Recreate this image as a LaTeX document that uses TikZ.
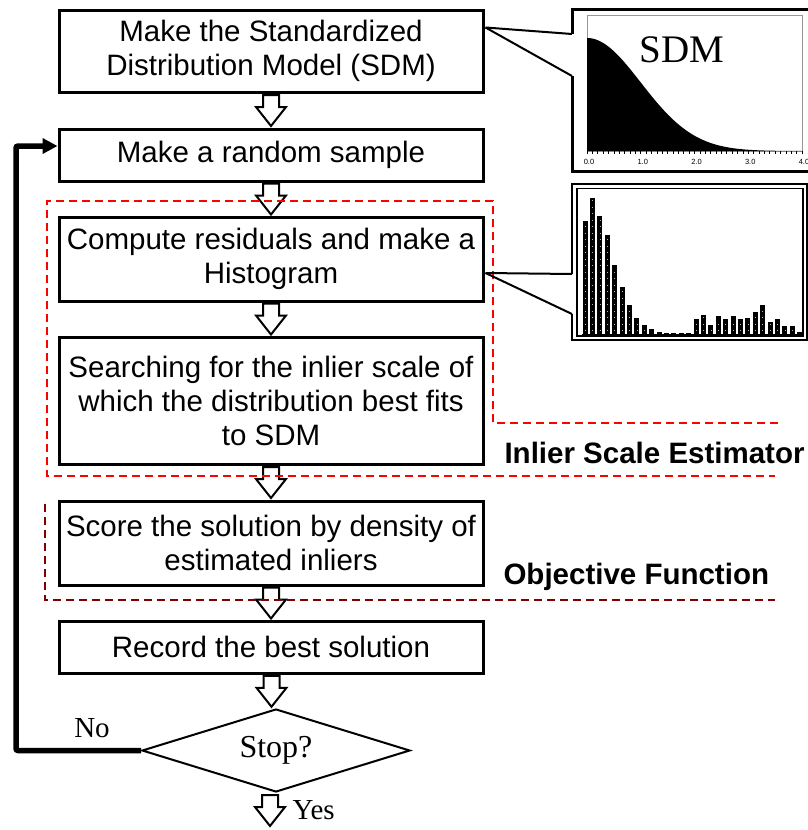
\documentclass[tikz,border=0pt]{standalone}
\usepackage{fontspec}
\setmainfont{Liberation Serif}
\setsansfont{Liberation Sans}
\usetikzlibrary{shapes.geometric,arrows.meta,calc}
\definecolor{dkred}{RGB}{128,0,0}
\definecolor{framegray}{RGB}{150,150,150}
\begin{document}
\begin{tikzpicture}[x=1pt,y=-1pt,
  procbox/.style={draw, line width=3pt, minimum width=424pt, align=center, inner sep=0pt,
    font=\sffamily\fontsize{29.5}{34}\selectfont},
  decision/.style={draw, diamond, line width=2pt, minimum width=268pt, minimum height=83pt,
    aspect=3.2, inner sep=0pt, font=\fontsize{32}{36}\selectfont},
  harrow/.pic={\draw[line width=2pt, fill=white, line join=miter]
     (-8,-15.5) -- (8,-15.5) -- (8,-3.5) -- (15,-3.5) -- (0,15.5) -- (-15,-3.5) -- (-8,-3.5) -- cycle;},
  callout/.style={line width=2pt},
  grouplabel/.style={anchor=base west, font=\sffamily\bfseries\fontsize{29.5}{34}\selectfont},
  serlabel/.style={font=\fontsize{29}{32}\selectfont},
  regionA/.style={red, line width=2.5pt, dash pattern=on 8pt off 5pt},
  regionB/.style={dkred, line width=2.5pt, dash pattern=on 8pt off 5pt},
  feedback/.style={line width=5.5pt, rounded corners=2pt, -{Triangle[length=15pt,width=15pt]}}
]
\useasboundingbox (0,0) rectangle (808,830);

% process boxes
\node[procbox, minimum height=82pt] (b1) at (271,51) {Make the Standardized\\Distribution Model (SDM)};
\node[procbox, minimum height=52pt] (b2) at (271,155) {Make a random sample};
\node[procbox, minimum height=84pt] (b3) at (271,259) {Compute residuals and make a\\Histogram};
\node[procbox, minimum height=127pt] (b4) at (271,400.5) {Searching for the inlier scale of\\which the distribution best fits\\to SDM};
\node[procbox, minimum height=84pt] (b5) at (271,543) {Score the solution by density of\\estimated inliers};
\node[procbox, minimum height=52pt] (b6) at (271,647) {Record the best solution};
\node[decision] (d) at (276,750.5) {Stop?};

% hollow arrows
\coordinate (m1) at ($(b1.south)!0.5!(b2.north)$);
\coordinate (m2) at ($(b2.south)!0.5!(b3.north)$);
\coordinate (m3) at ($(b3.south)!0.5!(b4.north)$);
\coordinate (m4) at ($(b4.south)!0.5!(b5.north)$);
\coordinate (m5) at ($(b5.south)!0.5!(b6.north)$);
\coordinate (m6) at ($(b6.south)!0.5!(d.north)+(-2,0)$);
\coordinate (m7) at ($(d.south)+(-6,17.5)$);
\foreach \m in {m1,m2,m3,m4,m5,m6,m7} \pic at (\m) {harrow};

% labels of decision
\node[serlabel] (no) at (92,728) {No};
\node[serlabel, anchor=west] (yes) at (289,810) {Yes};

% feedback loop
\coordinate (loopc) at (16,400);
\coordinate (b2in) at ($(b2.west)+(0,-9)$);
\draw[feedback] (d.west) -| (loopc) |- (b2in);

% dashed regions
\draw[regionA] (778,423) -- (493,423) -- (493,201) -- (47,201) -- (47,476) -- (775,476);
\draw[regionB] (45,504) -- (45,600) -- (775,600);
\node[grouplabel] (ise) at (501,463) {Inlier Scale Estimator};
\node[grouplabel] (obj) at (500,584) {Objective Function};

% SDM inset
\coordinate (c1) at ($(b1.north east)+(1,19)$);
\coordinate (s1) at (572,34);
\coordinate (s2) at (572,76);
\draw[callout] (c1) -- (s1);
\draw[callout] (c1) -- (s2);
\draw[line width=3pt] (s1) -- (572,9) -- (812,9);
\draw[line width=3pt] (s2) -- (572,171) -- (812,171);
\draw[framegray, line width=1pt] (587,15) rectangle (802,151);
\fill (587,151) -- plot[domain=0:4, samples=100] ({587+53.75*\x}, {151-113*exp(-\x*\x/2)}) -- (802,151) -- cycle;
\foreach \i in {0,...,40} \draw[line width=0.7pt] ({587+5.375*\i},151) -- ++(0,3);
\foreach \v [count=\k from 0] in {0.0,1.0,2.0,3.0,4.0}
  \node[font=\sffamily\fontsize{7.5}{8}\selectfont] at ({589+53.75*\k},162) {\v};
\node[font=\fontsize{39}{40}\selectfont] (sdm) at (682,50) {SDM};

% Histogram inset
\coordinate (c2) at ($(b3.east)+(1,14)$);
\coordinate (h1) at (572,274);
\coordinate (h2) at (572,314);
\draw[callout] (c2) -- (h1);
\draw[callout] (c2) -- (h2);
\draw[line width=2.5pt] (h1) -- (572,184) -- (807,184) -- (807,340) -- (572,340) -- (h2);
\draw[line width=1.2pt] (577,188.5) rectangle (803,336);
\foreach \h [count=\i from 0] in {112.7,135.3,118,98.7,68.7,46.3,28.7,16,8.3,4.3,1.3,0.5,0.5,0.5,0.5,14.3,18.7,8.7,17.3,14.7,17.3,14.7,16,21.7,28.7,12,14.3,7.7,7.7,1.7}{
  \fill ({582.5+7.4*\i},333.5) rectangle ++(5,-\h);
  \draw[white!70!black, line width=0.5pt, dash pattern=on 0.5pt off 6pt] ({585+7.4*\i},330.5) -- ++(0,{-max(\h-5,0)});
}
\draw[line width=0.8pt] (582,334) -- (803,334);
\end{tikzpicture}
\end{document}
